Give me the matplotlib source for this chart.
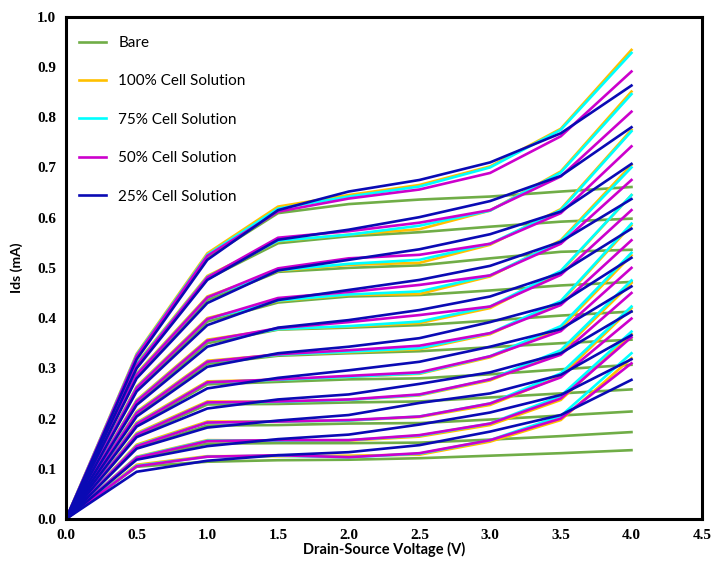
import matplotlib
matplotlib.use("Agg")
import matplotlib.pyplot as plt

# drain-source voltage steps (V)
vds = [0, 0.5, 1.0, 1.5, 2.0, 2.5, 3.0, 3.5, 4.0]

# Ids (mA), one row per gate-voltage curve, top curve first
bare = [
    [0, .322, .520, .609, .627, .636, .642, .652, .661],
    [0, .303, .478, .549, .563, .571, .582, .592, .598],
    [0, .283, .436, .492, .500, .505, .519, .532, .536],
    [0, .257, .393, .431, .443, .446, .455, .465, .472],
    [0, .230, .350, .377, .381, .386, .395, .405, .413],
    [0, .207, .309, .325, .330, .334, .342, .350, .357],
    [0, .186, .268, .273, .278, .280, .288, .298, .307],
    [0, .165, .228, .229, .232, .234, .242, .250, .258],
    [0, .142, .186, .187, .190, .191, .198, .206, .214],
    [0, .120, .150, .151, .151, .152, .158, .165, .173],
    [0, .104, .114, .117, .118, .121, .126, .131, .137],
]
cell100 = [
    [0, .329, .529, .622, .645, .665, .702, .777, .934],
    [0, .310, .484, .553, .566, .577, .614, .692, .851],
    [0, .290, .443, .494, .506, .510, .546, .617, .775],
    [0, .264, .400, .434, .446, .448, .483, .555, .705],
    [0, .237, .357, .378, .383, .390, .420, .492, .645],
    [0, .214, .315, .327, .332, .338, .368, .432, .585],
    [0, .192, .274, .277, .283, .289, .322, .380, .525],
    [0, .171, .234, .233, .237, .246, .276, .332, .470],
    [0, .148, .194, .194, .196, .203, .227, .284, .420],
    [0, .124, .157, .156, .156, .164, .187, .237, .368],
    [0, .108, .125, .125, .126, .128, .154, .197, .320],
]
cell75 = [
    [0, .327, .526, .618, .642, .662, .700, .775, .928],
    [0, .308, .482, .554, .566, .584, .614, .690, .846],
    [0, .288, .441, .495, .508, .516, .548, .615, .772],
    [0, .262, .398, .435, .447, .453, .485, .553, .700],
    [0, .235, .355, .378, .384, .393, .423, .494, .645],
    [0, .212, .313, .327, .333, .340, .370, .434, .588],
    [0, .190, .272, .277, .283, .290, .324, .384, .530],
    [0, .169, .232, .233, .237, .247, .278, .336, .475],
    [0, .146, .192, .194, .196, .204, .230, .290, .423],
    [0, .123, .156, .156, .157, .166, .190, .245, .373],
    [0, .106, .124, .126, .123, .130, .157, .205, .330],
]
cell50 = [
    [0, .325, .524, .612, .638, .656, .689, .762, .891],
    [0, .306, .481, .560, .573, .590, .615, .682, .811],
    [0, .287, .441, .499, .519, .526, .548, .609, .742],
    [0, .261, .398, .440, .452, .466, .485, .548, .675],
    [0, .234, .355, .380, .392, .406, .423, .486, .615],
    [0, .211, .313, .328, .336, .345, .370, .426, .555],
    [0, .189, .272, .278, .285, .292, .324, .374, .500],
    [0, .168, .232, .234, .238, .248, .278, .327, .450],
    [0, .145, .192, .194, .197, .204, .230, .282, .399],
    [0, .122, .155, .157, .157, .167, .190, .240, .362],
    [0, .105, .124, .127, .123, .131, .157, .200, .310],
]
cell25 = [
    [0, .318, .516, .615, .652, .675, .710, .768, .863],
    [0, .300, .476, .556, .576, .601, .633, .683, .780],
    [0, .280, .430, .495, .516, .537, .567, .612, .707],
    [0, .254, .386, .436, .456, .476, .504, .552, .637],
    [0, .227, .343, .381, .396, .416, .443, .490, .578],
    [0, .204, .303, .330, .343, .360, .392, .430, .520],
    [0, .184, .260, .281, .296, .313, .343, .378, .463],
    [0, .163, .220, .238, .248, .269, .292, .330, .413],
    [0, .140, .182, .196, .207, .231, .250, .287, .366],
    [0, .118, .145, .159, .168, .188, .212, .247, .318],
    [0, .094, .116, .127, .133, .147, .174, .207, .277],
]

series = [
    ('Bare', bare, '#70AD47'),
    ('100% Cell Solution', cell100, '#FFC000'),
    ('75% Cell Solution', cell75, '#00FFFF'),
    ('50% Cell Solution', cell50, '#CC00CC'),
    ('25% Cell Solution', cell25, '#0A0AB4'),
]

fig = plt.figure(figsize=(7.14, 5.72), dpi=100)
ax = fig.add_axes([0.0924, 0.0927, 0.891, 0.878])

for name, curves, color in series:
    for i, ids in enumerate(curves):
        ax.plot(vds, ids, color=color, lw=1.9, label=name if i == 0 else None)

ax.set_xlim(0, 4.5)
ax.set_ylim(0, 1.0)
ax.set_xticks([0, 0.5, 1.0, 1.5, 2.0, 2.5, 3.0, 3.5, 4.0, 4.5])
ax.set_yticks([0, 0.1, 0.2, 0.3, 0.4, 0.5, 0.6, 0.7, 0.8, 0.9, 1.0])
ax.xaxis.set_major_formatter(matplotlib.ticker.FormatStrFormatter('%.1f'))
ax.yaxis.set_major_formatter(matplotlib.ticker.FormatStrFormatter('%.1f'))
ax.tick_params(length=0, labelsize=11, pad=7)
for lbl in ax.get_xticklabels() + ax.get_yticklabels():
    lbl.set_fontfamily('Liberation Serif')
    lbl.set_fontweight('bold')
for sp in ax.spines.values():
    sp.set_linewidth(2.2)

ax.set_xlabel('Drain-Source Voltage (V)', fontfamily='Lato', fontweight='bold',
              fontsize=10.5, labelpad=0)
ax.set_ylabel('Ids (mA)', fontfamily='Lato', fontweight='bold', fontsize=10, labelpad=10)

leg = ax.legend(loc='upper left', bbox_to_anchor=(-0.01, 1.0), frameon=False,
                prop={'family': 'Lato', 'size': 11}, handlelength=1.8,
                labelspacing=1.6, borderaxespad=0.85, handletextpad=0.8)

fig.savefig('out.png', dpi=100)
